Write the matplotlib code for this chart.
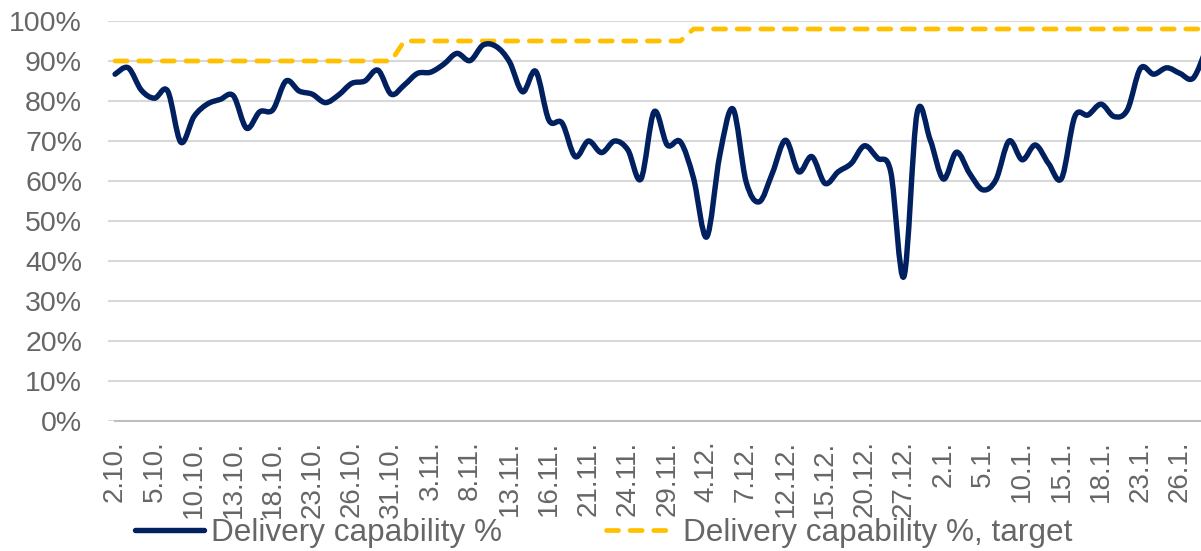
import matplotlib
matplotlib.use("Agg")
import matplotlib.pyplot as plt
from matplotlib.lines import Line2D
from matplotlib.path import Path
from matplotlib.patches import PathPatch
from matplotlib.ticker import FixedLocator, FuncFormatter

# ---- data -------------------------------------------------------------
dates = [
    "2.10.", "3.10.", "4.10.", "5.10.", "6.10.", "9.10.", "10.10.", "11.10.", "12.10.",
    "13.10.", "16.10.", "17.10.", "18.10.", "19.10.", "20.10.", "23.10.", "24.10.",
    "25.10.", "26.10.", "27.10.", "30.10.", "31.10.",
    "1.11.", "2.11.", "3.11.", "6.11.", "7.11.", "8.11.", "9.11.", "10.11.", "13.11.",
    "14.11.", "15.11.", "16.11.", "17.11.", "20.11.", "21.11.", "22.11.", "23.11.",
    "24.11.", "27.11.", "28.11.", "29.11.", "30.11.",
    "1.12.", "4.12.", "5.12.", "6.12.", "7.12.", "8.12.", "11.12.", "12.12.", "13.12.",
    "14.12.", "15.12.", "18.12.", "19.12.", "20.12.", "21.12.", "22.12.", "27.12.",
    "28.12.", "29.12.",
    "2.1.", "3.1.", "4.1.", "5.1.", "8.1.", "9.1.", "10.1.", "11.1.", "12.1.", "15.1.",
    "16.1.", "17.1.", "18.1.", "19.1.", "22.1.", "23.1.", "24.1.", "25.1.", "26.1.",
    "29.1.", "30.1.",
]

capability = [
    86.7, 88.3, 82.7, 80.7, 82.5, 69.7, 76.1, 79.2, 80.4, 81.3,
    73.2, 77.3, 77.8, 85.0, 82.5, 81.7, 79.6, 81.5, 84.4, 85.0,
    87.7, 81.7, 84.0, 86.9, 87.2, 89.2, 91.9, 90.1, 94.0, 93.6,
    89.8, 82.3, 87.4, 75.2, 74.5, 66.1, 70.0, 67.1, 70.0, 67.8,
    60.5, 77.3, 69.0, 69.8, 60.7, 46.0, 66.5, 78.0, 59.8, 54.8,
    62.0, 70.2, 62.3, 66.1, 59.4, 62.3, 64.4, 68.8, 65.7, 62.3,
    36.1, 76.9, 70.3, 60.5, 67.2, 61.9, 57.8, 60.3, 70.0, 65.3,
    69.0, 64.4, 60.7, 76.1, 76.5, 79.2, 76.1, 77.8, 88.2, 86.7,
    88.3, 86.9, 85.7, 93.0,
]

target = [90.0] * 22 + [95.0] * 22 + [98.0] * 40

series_names = ["Delivery capability %", "Delivery capability %, target"]

# ---- style ------------------------------------------------------------
NAVY = "#002060"
GOLD = "#FFC000"
GRID = "#D9D9D9"
TEXT = "#666666"
plt.rcParams["font.family"] = ["Liberation Sans", "DejaVu Sans"]
DASH = (2.55, 2.45)


def smooth_path(xs, ys):
    """Bezier path through the data points (Excel-style smoothed line)."""
    pts = list(zip(xs, ys))
    n = len(pts)
    verts = [pts[0]]
    codes = [Path.MOVETO]
    for i in range(n - 1):
        p0 = pts[i - 1] if i > 0 else pts[i]
        p1 = pts[i]
        p2 = pts[i + 1]
        p3 = pts[i + 2] if i + 2 < n else pts[i + 1]
        c1 = (p1[0] + (p2[0] - p0[0]) / 6, p1[1] + (p2[1] - p0[1]) / 6)
        c2 = (p2[0] - (p3[0] - p1[0]) / 6, p2[1] - (p3[1] - p1[1]) / 6)
        verts += [c1, c2, p2]
        codes += [Path.CURVE4] * 3
    return Path(verts, codes)


W, H = 1201, 551
fig = plt.figure(figsize=(W / 100, H / 100), dpi=100)
ax = fig.add_axes([108.5 / W, 1 - 421 / H, 1 - 108.5 / W, 400 / H])

x = list(range(len(dates)))
ax.plot(x, [v / 100 for v in target], color=GOLD, lw=3.4,
        dashes=DASH, dash_capstyle="round", solid_capstyle="round",
        dash_joinstyle="round", zorder=3)
cap_patch = PathPatch(smooth_path(x, [v / 100 for v in capability]), fill=False,
                      edgecolor=NAVY, lw=3.9, capstyle="round", joinstyle="round",
                      zorder=4)
ax.add_patch(cap_patch)

ax.set_ylim(0, 1.0)
ax.set_xlim(-0.5, 82.6)
ax.yaxis.set_major_locator(FixedLocator([i / 10 for i in range(11)]))
ax.yaxis.set_major_formatter(FuncFormatter(lambda v, p: f"{round(v * 100)}%"))
ax.grid(axis="y", color=GRID, lw=1.5, zorder=0)
ax.set_axisbelow(True)

ax.set_xticks(x[::3])
ax.set_xticklabels(dates[::3], rotation=90, va="top", ha="center")

for s in ["top", "right", "left"]:
    ax.spines[s].set_visible(False)
ax.spines["bottom"].set_color("#BFBFBF")
ax.spines["bottom"].set_linewidth(1.5)
ax.spines["bottom"].set_bounds(0, 83)

ax.tick_params(axis="y", length=0, pad=19, labelsize=20.5, labelcolor=TEXT)
ax.tick_params(axis="x", length=0, pad=14, labelsize=20, labelcolor=TEXT)

handles = [
    Line2D([], [], color=NAVY, lw=3.9, solid_capstyle="round"),
    Line2D([], [], color=GOLD, lw=3.4, dashes=DASH, dash_capstyle="round"),
]
fig.legend(handles, series_names, loc="center left", bbox_to_anchor=(135 / W, 1 - 533 / H),
           ncol=2, frameon=False, fontsize=22.7, labelcolor=TEXT,
           handlelength=2.2, handletextpad=0.22, columnspacing=3.3,
           borderaxespad=0, borderpad=0)

fig.savefig("out.png", dpi=100)
